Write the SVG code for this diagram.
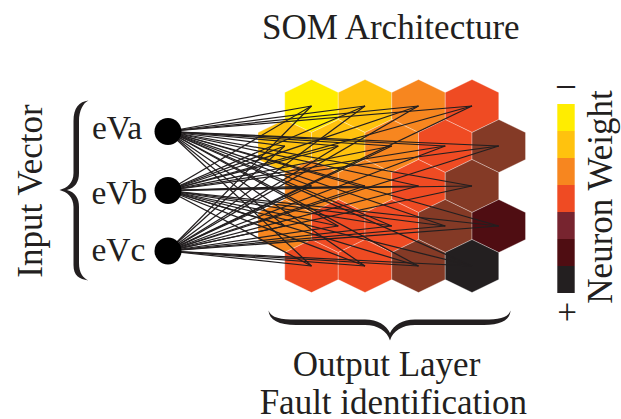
<svg xmlns="http://www.w3.org/2000/svg" width="621" height="419" viewBox="0 0 621 419">
  <style>
    .lbl { font-family: "Liberation Serif", "Times New Roman", serif; fill: #231F20; }
    .big { font-size: 35px; }
    .in { font-size: 33.5px; }
    .hex { stroke: #ffffff; stroke-opacity: 0.45; stroke-width: 0.7; }
    .y { fill: #FFED00; }
    .g { fill: #FFC20E; }
    .o { fill: #F7861F; }
    .r { fill: #EF4B23; }
    .b { fill: #843A26; }
    .m { fill: #4F0D12; }
    .k { fill: #231F20; }
    .w { fill: #77242F; }
    .edge line { stroke: #231F20; stroke-width: 1.25; }
    .node { fill: #000000; }
    .brace { fill: #231F20; }
  </style>
  <defs>
    <polygon id="hx" points="0,-26.5 26.75,-13.5 26.75,13.5 0,26.5 -26.75,13.5 -26.75,-13.5"/>
  </defs>

  <rect width="621" height="419" fill="#ffffff"/>

  <text class="lbl big" x="390.8" y="38.5" text-anchor="middle">SOM Architecture</text>

  <!-- output layer: hexagonal map -->
  <g id="output-layer">
    <use href="#hx" class="hex y" x="311.5" y="106"/>
    <use href="#hx" class="hex g" x="365" y="106"/>
    <use href="#hx" class="hex o" x="418.5" y="106"/>
    <use href="#hx" class="hex r" x="472" y="106"/>

    <use href="#hx" class="hex g" x="284.75" y="146"/>
    <use href="#hx" class="hex g" x="338.25" y="146"/>
    <use href="#hx" class="hex o" x="391.75" y="146"/>
    <use href="#hx" class="hex r" x="445.25" y="146"/>
    <use href="#hx" class="hex b" x="498.75" y="146"/>

    <use href="#hx" class="hex o" x="311.5" y="186"/>
    <use href="#hx" class="hex o" x="365" y="186"/>
    <use href="#hx" class="hex r" x="418.5" y="186"/>
    <use href="#hx" class="hex b" x="472" y="186"/>

    <use href="#hx" class="hex o" x="284.75" y="226"/>
    <use href="#hx" class="hex r" x="338.25" y="226"/>
    <use href="#hx" class="hex r" x="391.75" y="226"/>
    <use href="#hx" class="hex b" x="445.25" y="226"/>
    <use href="#hx" class="hex m" x="498.75" y="226"/>

    <use href="#hx" class="hex r" x="311.5" y="266"/>
    <use href="#hx" class="hex r" x="365" y="266"/>
    <use href="#hx" class="hex b" x="418.5" y="266"/>
    <use href="#hx" class="hex k" x="472" y="266"/>
  </g>

  <!-- full connections: every input to every map unit -->
  <g id="connectors" class="edge">
    <line x1="168" y1="131.5" x2="311.5" y2="106"/>
    <line x1="168" y1="131.5" x2="365" y2="106"/>
    <line x1="168" y1="131.5" x2="418.5" y2="106"/>
    <line x1="168" y1="131.5" x2="472" y2="106"/>
    <line x1="168" y1="131.5" x2="284.75" y2="146"/>
    <line x1="168" y1="131.5" x2="338.25" y2="146"/>
    <line x1="168" y1="131.5" x2="391.75" y2="146"/>
    <line x1="168" y1="131.5" x2="445.25" y2="146"/>
    <line x1="168" y1="131.5" x2="498.75" y2="146"/>
    <line x1="168" y1="131.5" x2="311.5" y2="186"/>
    <line x1="168" y1="131.5" x2="365" y2="186"/>
    <line x1="168" y1="131.5" x2="418.5" y2="186"/>
    <line x1="168" y1="131.5" x2="472" y2="186"/>
    <line x1="168" y1="131.5" x2="284.75" y2="226"/>
    <line x1="168" y1="131.5" x2="338.25" y2="226"/>
    <line x1="168" y1="131.5" x2="391.75" y2="226"/>
    <line x1="168" y1="131.5" x2="445.25" y2="226"/>
    <line x1="168" y1="131.5" x2="498.75" y2="226"/>
    <line x1="168" y1="131.5" x2="311.5" y2="266"/>
    <line x1="168" y1="131.5" x2="365" y2="266"/>
    <line x1="168" y1="131.5" x2="418.5" y2="266"/>
    <line x1="168" y1="131.5" x2="472" y2="266"/>

    <line x1="168" y1="190.5" x2="311.5" y2="106"/>
    <line x1="168" y1="190.5" x2="365" y2="106"/>
    <line x1="168" y1="190.5" x2="418.5" y2="106"/>
    <line x1="168" y1="190.5" x2="472" y2="106"/>
    <line x1="168" y1="190.5" x2="284.75" y2="146"/>
    <line x1="168" y1="190.5" x2="338.25" y2="146"/>
    <line x1="168" y1="190.5" x2="391.75" y2="146"/>
    <line x1="168" y1="190.5" x2="445.25" y2="146"/>
    <line x1="168" y1="190.5" x2="498.75" y2="146"/>
    <line x1="168" y1="190.5" x2="311.5" y2="186"/>
    <line x1="168" y1="190.5" x2="365" y2="186"/>
    <line x1="168" y1="190.5" x2="418.5" y2="186"/>
    <line x1="168" y1="190.5" x2="472" y2="186"/>
    <line x1="168" y1="190.5" x2="284.75" y2="226"/>
    <line x1="168" y1="190.5" x2="338.25" y2="226"/>
    <line x1="168" y1="190.5" x2="391.75" y2="226"/>
    <line x1="168" y1="190.5" x2="445.25" y2="226"/>
    <line x1="168" y1="190.5" x2="498.75" y2="226"/>
    <line x1="168" y1="190.5" x2="311.5" y2="266"/>
    <line x1="168" y1="190.5" x2="365" y2="266"/>
    <line x1="168" y1="190.5" x2="418.5" y2="266"/>
    <line x1="168" y1="190.5" x2="472" y2="266"/>

    <line x1="168" y1="251" x2="311.5" y2="106"/>
    <line x1="168" y1="251" x2="365" y2="106"/>
    <line x1="168" y1="251" x2="418.5" y2="106"/>
    <line x1="168" y1="251" x2="472" y2="106"/>
    <line x1="168" y1="251" x2="284.75" y2="146"/>
    <line x1="168" y1="251" x2="338.25" y2="146"/>
    <line x1="168" y1="251" x2="391.75" y2="146"/>
    <line x1="168" y1="251" x2="445.25" y2="146"/>
    <line x1="168" y1="251" x2="498.75" y2="146"/>
    <line x1="168" y1="251" x2="311.5" y2="186"/>
    <line x1="168" y1="251" x2="365" y2="186"/>
    <line x1="168" y1="251" x2="418.5" y2="186"/>
    <line x1="168" y1="251" x2="472" y2="186"/>
    <line x1="168" y1="251" x2="284.75" y2="226"/>
    <line x1="168" y1="251" x2="338.25" y2="226"/>
    <line x1="168" y1="251" x2="391.75" y2="226"/>
    <line x1="168" y1="251" x2="445.25" y2="226"/>
    <line x1="168" y1="251" x2="498.75" y2="226"/>
    <line x1="168" y1="251" x2="311.5" y2="266"/>
    <line x1="168" y1="251" x2="365" y2="266"/>
    <line x1="168" y1="251" x2="418.5" y2="266"/>
    <line x1="168" y1="251" x2="472" y2="266"/>
  </g>

  <!-- input nodes -->
  <g id="eVa">
    <circle class="node" cx="168" cy="131.5" r="13.5"/>
    <text class="lbl in" x="92" y="139">eVa</text>
  </g>
  <g id="eVb">
    <circle class="node" cx="168" cy="190.5" r="13.5"/>
    <text class="lbl in" x="91.5" y="204">eVb</text>
  </g>
  <g id="eVc">
    <circle class="node" cx="168" cy="251" r="13.5"/>
    <text class="lbl in" x="91.5" y="261">eVc</text>
  </g>

  <!-- input vector brace and label -->
  <g id="input-vector">
    <path class="brace" d="M88.5,100.5 C79,101.5 73.5,108 73.5,121 L73.5,173 C73.5,183 67,188 59.5,190 C67,192 73.5,197 73.5,207 L73.5,265 C73.5,276 79,279 88.5,280.5 C83,278 79,273 79,263 L79,207 C79,198 75,192 67,190 C75,188 79,182 79,173 L79,121 C79,111 83,103 88.5,100.5 Z"/>
    <text class="lbl big" transform="translate(42,191) rotate(-90)" text-anchor="middle">Input Vector</text>
  </g>

  <!-- output layer brace and labels -->
  <g id="output-label">
    <path class="brace" d="M268.5,310.5 C271,318 281,319.5 296,319.5 L365,319.5 C378,319.5 386,325 390,333 C394,325 402,319.5 415,319.5 L484,319.5 C499,319.5 508,318 510.5,310.5 C510,320 501,325 484,325 L415,325 C402,325 393,331 390,340.5 C387,331 378,325 365,325 L296,325 C279,325 269,320 268.5,310.5 Z"/>
    <text class="lbl big" x="386.5" y="375.5" text-anchor="middle">Output Layer</text>
    <text class="lbl big" x="393.3" y="413.5" text-anchor="middle">Fault identification</text>
  </g>

  <!-- neuron weight colour scale -->
  <g id="legend">
    <text class="lbl" x="566" y="99.5" text-anchor="middle" font-size="39">−</text>
    <rect class="y" x="557.3" y="104" width="17.4" height="27"/>
    <rect class="g" x="557.3" y="131" width="17.4" height="27"/>
    <rect class="o" x="557.3" y="158" width="17.4" height="27"/>
    <rect class="r" x="557.3" y="185" width="17.4" height="27"/>
    <rect class="w" x="557.3" y="212" width="17.4" height="27"/>
    <rect class="m" x="557.3" y="239" width="17.4" height="27"/>
    <rect class="k" x="557.3" y="266" width="17.4" height="27"/>
    <text class="lbl big" x="567" y="324" text-anchor="middle">+</text>
    <text class="lbl big" transform="translate(611.5,197) rotate(-90)" text-anchor="middle">Neuron Weight</text>
  </g>
</svg>
